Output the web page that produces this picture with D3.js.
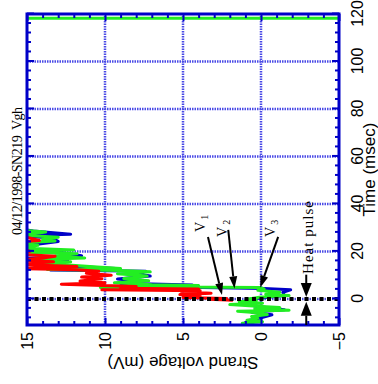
<!DOCTYPE html>
<html>
<head>
<meta charset="utf-8">
<script src="https://cdn.jsdelivr.net/npm/d3@7"></script>
<style>
  body { margin: 0; background: #fff; }
</style>
</head>
<body>
<div id="chart"></div>
<script>
// values: [time (msec), strand voltage (mV)]
const timeTicks = [0, 20, 40, 60, 80, 100, 120];
const timeMinor = [-8, -4, 4, 8, 12, 16, 24, 28, 32, 36, 44, 48, 52, 56, 64, 68, 72, 76, 84, 88, 92, 96, 104, 108, 112, 116];
const timeGrid = [0, 20, 40, 60, 80, 100];
const voltTicks = [15, 10, 5, 0, -5];
const voltMinor = [14, 13, 12, 11, 9, 8, 7, 6, 4, 3, 2, 1, -1, -2, -3, -4];
const voltGrid = [10, 5, 0];

const v1 = [[-0.6, 1.8], [-0.2, 3.3], [0.2, 2.2], [0.6, 5.0], [1.2, 3.9], [1.8, 5.2], [2.4, 3.2], [3.0, 5.1],
  [3.4, 3.9], [3.8, 10.2], [4.2, 4.0], [4.5, 9.0], [5.2, 8.0], [6.2, 12.8], [6.8, 10.0], [7.5, 11.6],
  [8.5, 10.2], [9.2, 11.5], [10.0, 9.6], [10.8, 11.2], [11.6, 10.4], [12.3, 11.8], [12.8, 15.5],
  [13.6, 11.8], [14.5, 15.5], [15.6, 13.3], [16.4, 15.5], [17.2, 14.0], [18.0, 13.2], [18.8, 15.5],
  [20.0, 14.8], [21.5, 15.5], [24.0, 15.5], [24.6, 14.2], [25.8, 14.9], [26.5, 15.5], [35, 16]];

const v2 = [[-11, 0.5], [-10, 1.0], [-9, 0.7], [-8, 0.0], [-6.7, -0.7], [-5.6, 0.6], [-4.6, -1.5], [-3, 0.4],
  [-1.5, 1.2], [0, 0.6], [1.4, -1.5], [2.8, -1.4], [3.8, -1.9], [4.4, -0.2], [4.9, 4.8], [5.2, 10.0],
  [5.8, 4.4], [6.6, 9.0], [7.6, 8.1], [8.4, 9.2], [9.6, 7.1], [10.6, 8.0], [11.6, 7.4], [12.2, 13.5],
  [12.8, 9.3], [14.0, 12.8], [15.2, 14.2], [16.2, 12.4], [17.0, 15.5], [18.2, 11.5], [19.6, 13.0],
  [21.0, 15.5], [22.8, 14.6], [24.2, 13.0], [25.6, 13.4], [26.6, 15.5], [27.2, 12.2], [28.6, 14.6],
  [29.5, 15.5], [40, 16]];

const v3 = [[-11, 0.6], [-10.3, 1.2], [-9.6, -0.1], [-9.0, 0.9], [-8.2, 0.2], [-7.4, 0.6], [-6.6, -0.4],
  [-5.8, 0.2], [-5.2, 1.5], [-4.8, -1.8], [-4.2, 0.4], [-3.6, -1.2], [-3.0, 0.5], [-2.4, 2.0], [-1.8, -0.1],
  [-1.2, 1.4], [-0.6, 0.3], [0, 0.8], [0.8, 0.0], [1.4, -1.8], [2.0, -0.3], [2.8, -1.2], [3.6, 0.2],
  [4.2, -0.2], [4.8, 0.1], [5.0, 5.2], [4.8, 10.3], [5.6, 4.0], [6.0, 7.0], [6.8, 9.4], [7.6, 7.2],
  [8.6, 8.8], [9.6, 7.3], [10.6, 9.2], [11.4, 7.1], [12.0, 9.0], [12.4, 13.7], [12.8, 9.0], [13.4, 10.5],
  [14.4, 12.6], [15.0, 14.5], [15.6, 12.2], [16.4, 15.5], [17.2, 11.3], [18.0, 13.2], [19.0, 11.8],
  [19.8, 15.5], [20.6, 12.0], [21.4, 15.5], [22.6, 14.3], [23.6, 15.5], [24.4, 13.2], [25.2, 14.0],
  [26.0, 13.0], [26.9, 15.5], [28.2, 13.8], [29.0, 15.5], [40, 16], [118.2, 16], [118.2, -6]];

// labels and arrows: label [t, V], arrow from [t, V] to [t, V]
const labels = [
  { name: '1', at: [28.2, 3.6], from: [26.1, 3.4], to: [1.6, 2.5] },
  { name: '2', at: [26.1, 2.2], from: [29.1, 2.1], to: [4.4, 1.7] },
  { name: '3', at: [26.1, -0.9], from: [26.1, -1.1], to: [4.8, 0.05] }
];
const heatPulseV = -2.9;
const titleText = '04/12/1998-SN219  Vgh';

const width = 378;
const height = 384;

const svg = d3.select('#chart').append('svg')
  .attr('width', width)
  .attr('height', height);

// the plot is drawn upright, then turned a quarter turn to the left
const g = svg.append('g')
  .attr('transform', `translate(0,${height}) rotate(-90)`);

const x = d3.scaleLinear().domain([-11, 120]).range([59, 370]);
const y = d3.scaleLinear().domain([-5, 15]).range([339, 27]);

const blue = '#0000c8';
const sans = 'Liberation Sans, Arial, sans-serif';
const serif = 'Liberation Serif, Times New Roman, serif';

g.append('clipPath').attr('id', 'plot-clip')
  .append('rect')
  .attr('x', x(-11)).attr('y', y(15))
  .attr('width', x(120) - x(-11)).attr('height', y(-5) - y(15));

// grid
const grid = g.append('g')
  .attr('stroke', '#4a4ae6')
  .attr('stroke-width', 2.5)
  .attr('stroke-dasharray', '1.5,1');
grid.selectAll('.gt').data(timeGrid).join('line')
  .attr('x1', d => x(d)).attr('x2', d => x(d))
  .attr('y1', y(15)).attr('y2', y(-5));
grid.selectAll('.gv').data(voltGrid).join('line')
  .attr('x1', x(-11)).attr('x2', x(120))
  .attr('y1', d => y(d)).attr('y2', d => y(d));

// traces
const line = d3.line().x(d => x(d[0])).y(d => y(d[1]));
const traces = g.append('g').attr('clip-path', 'url(#plot-clip)');
[[v2, blue], [v3, '#22ee22'], [v1, '#ff0000']].forEach(([data, color]) => {
  traces.append('path')
    .datum(data)
    .attr('d', line)
    .attr('fill', 'none')
    .attr('stroke', color)
    .attr('stroke-width', 3)
    .attr('stroke-linejoin', 'round');
});

// heat pulse marker
g.append('line')
  .attr('x1', x(0)).attr('x2', x(0))
  .attr('y1', y(15)).attr('y2', y(-5))
  .attr('stroke', '#000')
  .attr('stroke-width', 4)
  .attr('stroke-dasharray', '4,3.5');

// axes and ticks
function styleAxis(sel) {
  sel.select('.domain').remove();
  sel.selectAll('line').attr('stroke', blue).attr('stroke-width', 2);
  sel.selectAll('text').attr('font-family', sans).attr('font-size', 16).attr('fill', '#000');
}

g.append('g')
  .attr('transform', `translate(0,${y(-5)})`)
  .call(d3.axisBottom(x).tickValues(timeTicks).tickSize(-7).tickPadding(13).tickFormat(d3.format('d')))
  .call(styleAxis);
g.append('g')
  .attr('transform', `translate(0,${y(-5)})`)
  .call(d3.axisBottom(x).tickValues(timeMinor).tickSize(-4).tickFormat(''))
  .call(styleAxis);
g.append('g')
  .attr('transform', `translate(0,${y(15)})`)
  .call(d3.axisTop(x).tickValues(timeTicks).tickSize(-7).tickFormat(''))
  .call(styleAxis);
g.append('g')
  .attr('transform', `translate(0,${y(15)})`)
  .call(d3.axisTop(x).tickValues(timeMinor).tickSize(-4).tickFormat(''))
  .call(styleAxis);

g.append('g')
  .attr('transform', `translate(${x(-11)},0)`)
  .call(d3.axisLeft(y).tickValues(voltTicks).tickSize(-7).tickPadding(7).tickFormat(d3.format('d')))
  .call(styleAxis);
g.append('g')
  .attr('transform', `translate(${x(-11)},0)`)
  .call(d3.axisLeft(y).tickValues(voltMinor).tickSize(-4).tickFormat(''))
  .call(styleAxis);
g.append('g')
  .attr('transform', `translate(${x(120)},0)`)
  .call(d3.axisRight(y).tickValues(voltTicks).tickSize(-7).tickFormat(''))
  .call(styleAxis);
g.append('g')
  .attr('transform', `translate(${x(120)},0)`)
  .call(d3.axisRight(y).tickValues(voltMinor).tickSize(-4).tickFormat(''))
  .call(styleAxis);

g.append('rect')
  .attr('x', x(-11)).attr('y', y(15))
  .attr('width', x(120) - x(-11)).attr('height', y(-5) - y(15))
  .attr('fill', 'none')
  .attr('stroke', blue)
  .attr('stroke-width', 3);

// axis titles
g.append('text')
  .attr('x', (x(-11) + x(120)) / 2)
  .attr('y', 375)
  .attr('text-anchor', 'middle')
  .attr('font-family', sans)
  .attr('font-size', 17)
  .text('Time (msec)');

g.append('text')
  .attr('transform', `translate(27,${(y(15) + y(-5)) / 2}) rotate(-90)`)
  .attr('text-anchor', 'middle')
  .attr('font-family', sans)
  .attr('font-size', 17)
  .text('Strand voltage (mV)');

g.append('text')
  .attr('x', 149)
  .attr('y', 22)
  .attr('font-family', serif)
  .attr('font-size', 14)
  .attr('textLength', 128)
  .style('white-space', 'pre')
  .text(titleText);

// arrows
function arrow(sel, x1, y1, x2, y2, len, half, w) {
  const dx = x2 - x1, dy = y2 - y1;
  const d = Math.hypot(dx, dy);
  const ux = dx / d, uy = dy / d;
  const bx = x2 - ux * len, by = y2 - uy * len;
  sel.append('line')
    .attr('x1', x1).attr('y1', y1).attr('x2', bx).attr('y2', by)
    .attr('stroke', '#000').attr('stroke-width', w);
  sel.append('path')
    .attr('d', `M${x2},${y2}L${bx - uy * half},${by + ux * half}L${bx + uy * half},${by - ux * half}Z`)
    .attr('fill', '#000');
}

const notes = g.append('g');
labels.forEach(l => {
  const t = notes.append('text')
    .attr('x', x(l.at[0]))
    .attr('y', y(l.at[1]))
    .attr('font-family', serif)
    .attr('font-size', 14)
    .text('V');
  t.append('tspan')
    .attr('font-size', 10)
    .attr('dx', 2)
    .attr('dy', 3)
    .text(l.name);
  arrow(notes, x(l.from[0]), y(l.from[1]), x(l.to[0]), y(l.to[1]), 12, 4, 2);
});

notes.append('text')
  .attr('x', x(10.5))
  .attr('y', y(heatPulseV) + 7)
  .attr('font-family', serif)
  .attr('font-size', 15)
  .attr('textLength', 73)
  .text('Heat pulse');
arrow(notes, x(10.2), y(heatPulseV), x(0.8), y(heatPulseV), 14, 5.5, 2);
arrow(notes, x(-11), y(heatPulseV), x(-1.2), y(heatPulseV), 14, 5.5, 2);
</script>
</body>
</html>
